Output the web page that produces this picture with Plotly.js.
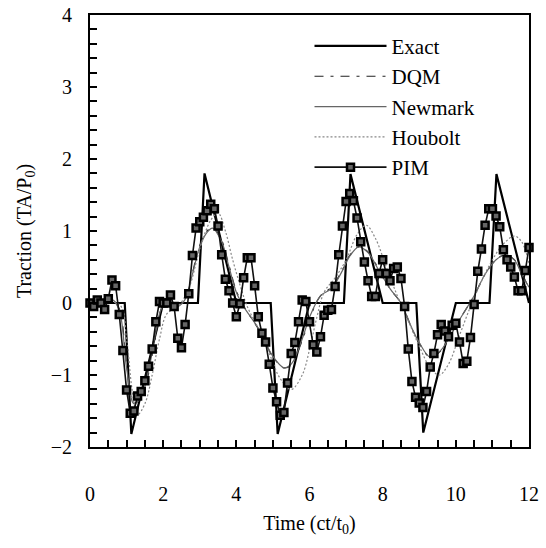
<!DOCTYPE html>
<html>
<head>
<meta charset="utf-8">
<script src="https://cdn.plot.ly/plotly-3.0.1.min.js"></script>
<style>html,body{margin:0;padding:0;background:#fff;}#chart{width:546px;height:548px;}</style>
</head>
<body>
<div id="chart"></div>
<script>
// ---- data ----
var exactT = [0,0.95,1.13,2,2.95,3.13,4,4.94,5.13,6,6.94,7.12,8,8.92,9.11,10,10.92,11.11,12];
var exactV = [0,0,-1.82,0,0,1.8,0,0,-1.82,0,0,1.79,0,0,-1.8,0,0,1.79,0];

var dqmT = [0,0.6,0.8,1.0,1.2,1.4,1.6,1.8,2.0,2.4,2.6,2.8,3.0,3.2,3.35,3.6,3.8,4.0,4.2,4.4,4.6,4.8,5.0,5.3,5.5,5.8,6.0,6.3,6.6,6.9,7.1,7.35,7.6,7.9,8.2,8.5,8.8,9.0,9.3,9.6,9.9,10.2,10.5,10.8,11.1,11.35,11.6,11.8,12];
var dqmV = [0,0.04,-0.08,-0.85,-1.38,-1.32,-0.98,-0.45,-0.06,-0.04,0.06,0.42,0.8,1.0,1.05,0.87,0.52,0.17,-0.04,-0.2,-0.36,-0.56,-0.75,-0.9,-0.86,-0.52,-0.22,0.1,0.22,0.46,0.66,0.78,0.71,0.46,0.2,0.0,-0.36,-0.56,-0.75,-0.66,-0.41,-0.15,0.1,0.4,0.6,0.67,0.6,0.42,0.2];

var newmarkT = [0,0.6,0.8,1.0,1.2,1.4,1.6,1.8,2.0,2.4,2.6,2.8,3.0,3.2,3.35,3.6,3.8,4.0,4.2,4.4,4.6,4.8,5.0,5.3,5.5,5.8,6.0,6.3,6.6,6.9,7.1,7.35,7.6,7.9,8.2,8.5,8.8,9.0,9.3,9.6,9.9,10.2,10.5,10.8,11.1,11.35,11.6,11.8,12];
var newmarkV = [0,0.05,-0.1,-0.9,-1.4,-1.3,-0.95,-0.4,-0.05,-0.05,0.05,0.4,0.78,0.98,1.04,0.85,0.5,0.15,-0.05,-0.2,-0.35,-0.55,-0.74,-0.9,-0.85,-0.5,-0.2,0.1,0.2,0.45,0.65,0.78,0.7,0.45,0.2,0.0,-0.35,-0.55,-0.75,-0.65,-0.4,-0.15,0.1,0.4,0.6,0.67,0.6,0.4,0.22];

var houboltT = [0,0.8,1.0,1.15,1.3,1.5,1.7,1.9,2.1,2.4,2.7,3.0,3.3,3.5,3.7,3.9,4.1,4.3,4.6,4.9,5.2,5.5,5.8,6.0,6.2,6.4,6.7,7.0,7.3,7.55,7.8,8.1,8.4,8.7,9.0,9.3,9.55,9.8,10.1,10.4,10.7,11.0,11.3,11.6,11.8,12.0];
var houboltV = [0,-0.02,-0.5,-1.2,-1.55,-1.4,-1.0,-0.5,-0.15,-0.05,0.2,0.75,1.15,1.25,1.0,0.6,0.25,-0.05,-0.35,-0.7,-1.05,-1.2,-1.0,-0.65,-0.2,0.15,0.35,0.6,0.95,1.08,0.9,0.5,0.1,-0.25,-0.6,-0.9,-1.0,-0.85,-0.45,-0.05,0.3,0.6,0.82,0.93,0.85,0.55];

var pimStep = 0.1;
var pimV = [0,-0.05,0.04,0,-0.09,0.06,0.32,0.24,-0.16,-0.66,
            -1.21,-1.53,-1.5,-1.29,-1.23,-1.08,-0.88,-0.64,-0.26,0.02,
            0,0,0.11,-0.05,-0.49,-0.62,-0.3,0.13,0.66,1.04,
            1.13,1.19,1.28,1.37,1.31,1.07,0.67,0.33,0.17,0,
            -0.19,-0.01,0.35,0.63,0.63,0.24,-0.19,-0.42,-0.54,-0.85,
            -1.18,-1.37,-1.56,-1.52,-1.11,-0.7,-0.55,-0.26,0.04,0.02,
            -0.26,-0.58,-0.68,-0.47,-0.17,-0.1,-0.09,0.23,0.67,1.07,
            1.41,1.52,1.42,1.18,0.85,0.57,0.31,0.09,0.09,0.41,
            0.6,0.41,0.31,0.48,0.5,0.34,-0.05,-0.64,-1.09,-1.31,
            -1.39,-1.45,-1.23,-0.89,-0.7,-0.44,-0.3,-0.39,-0.47,-0.31,
            -0.28,-0.54,-0.84,-0.81,-0.48,-0.02,0.44,0.75,1.08,1.31,
            1.31,1.21,1.06,0.74,0.6,0.5,0.36,0.17,0.17,0.45,
            0.77];
var pimT = pimV.map(function(_, i){ return +(i * pimStep).toFixed(2); });

var seriesNames = ["Exact","DQM","Newmark","Houbolt","PIM"];
var xTitle = "Time (ct/t<sub>0</sub>)";
var yTitle = "Traction (TA/P<sub>0</sub>)";

// ---- traces ----
var font = "Liberation Serif";
var traces = [
  {x: exactT, y: exactV, name: seriesNames[0], mode: "lines",
   line: {color: "#000", width: 2.2}},
  {x: dqmT, y: dqmV, name: seriesNames[1], mode: "lines",
   line: {color: "#222", width: 1.2, dash: "9px,7px,3px,7px", shape: "spline", smoothing: 1}},
  {x: newmarkT, y: newmarkV, name: seriesNames[2], mode: "lines",
   line: {color: "#666", width: 1.2, shape: "spline", smoothing: 1}},
  {x: houboltT, y: houboltV, name: seriesNames[3], mode: "lines",
   line: {color: "#888", width: 1.2, dash: "2px,2px", shape: "spline", smoothing: 1}},
  {x: pimT, y: pimV, name: seriesNames[4], mode: "lines+markers", cliponaxis: false,
   line: {color: "#111", width: 1.6},
   marker: {symbol: "square", size: 7, color: "#666", line: {color: "#000", width: 2.5}}}
];

var layout = {
  width: 546, height: 548,
  paper_bgcolor: "#fff", plot_bgcolor: "#fff",
  margin: {l: 90, r: 17, t: 15, b: 101},
  font: {family: font, size: 20, color: "#000"},
  showlegend: true,
  legend: {x: 0.5, y: 0.975, xanchor: "left", yanchor: "top",
           bgcolor: "rgba(0,0,0,0)", font: {family: font, size: 21},
           itemwidth: 72, tracegroupgap: 2},
  xaxis: {range: [0, 12], dtick: 2, tick0: 0, showgrid: false, zeroline: false,
          showline: true, linecolor: "#000", linewidth: 2, mirror: true,
          ticks: "inside", ticklen: 7, tickwidth: 2, tickcolor: "#000",
          ticklabelstandoff: 28,
          minor: {dtick: 0.5, ticks: "inside", ticklen: 7, tickwidth: 2, tickcolor: "#000", showgrid: false},
          title: {text: xTitle, font: {family: font, size: 20}, standoff: 12}},
  yaxis: {range: [-2, 4], dtick: 1, tick0: 0, showgrid: false, zeroline: false,
          showline: true, linecolor: "#000", linewidth: 2, mirror: true,
          ticks: "inside", ticklen: 7, tickwidth: 2, tickcolor: "#000",
          ticklabelstandoff: 12,
          minor: {dtick: 0.2, ticks: "inside", ticklen: 7, tickwidth: 2, tickcolor: "#000", showgrid: false},
          title: {text: yTitle, font: {family: font, size: 20}, standoff: 14}}
};

Plotly.newPlot("chart", traces, layout, {displayModeBar: false, staticPlot: true});
</script>
</body>
</html>
